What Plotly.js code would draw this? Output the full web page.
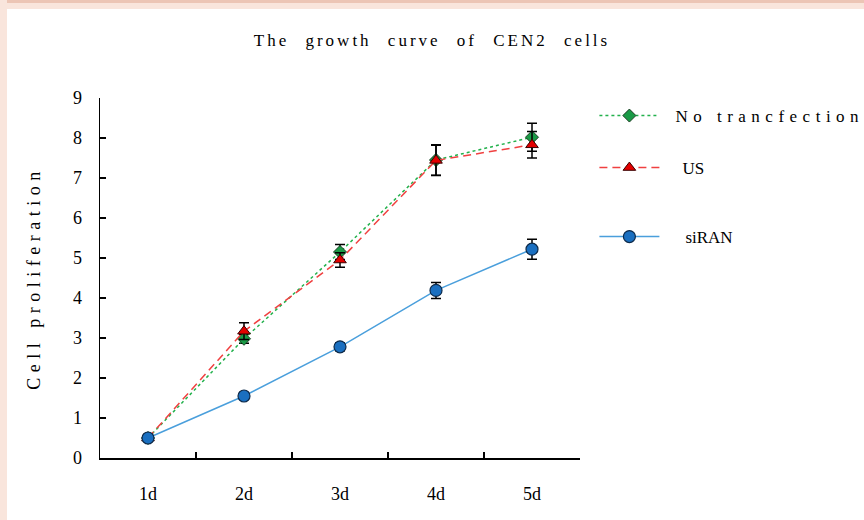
<!DOCTYPE html>
<html>
<head>
<meta charset="utf-8">
<script src="https://cdn.plot.ly/plotly-3.0.1.min.js"></script>
<style>
  html, body { margin: 0; padding: 0; background: #ffffff; }
  #wrap { position: relative; width: 864px; height: 520px; overflow: hidden; }
  #chart { position: absolute; left: 0; top: 0; width: 864px; height: 520px; }
  #bandTop { position: absolute; left: 0; top: 0; width: 864px; height: 9px; background: #f9e5dc; pointer-events: none; }
  #bandTop2 { position: absolute; left: 0; top: 0; width: 864px; height: 3px; background: #ecc5b5; pointer-events: none; }
  #bandLeft { position: absolute; left: 0; top: 0; width: 7px; height: 520px; background: #f9e5dc; pointer-events: none; }
  .gtitle { letter-spacing: 3px; word-spacing: 9px; }
  .ytitle { letter-spacing: 5.5px; }
</style>
</head>
<body>
<div id="wrap">
  <div id="chart"></div>
  <div id="bandTop"></div>
  <div id="bandTop2"></div>
  <div id="bandLeft"></div>
</div>
<script>
const days = ['1d', '2d', '3d', '4d', '5d'];
const yTicks = [0, 1, 2, 3, 4, 5, 6, 7, 8, 9];

const noTransfection = [0.5, 2.98, 5.15, 7.45, 8.02];
const noTransfectionErr = [0.05, 0.11, 0.19, 0.38, 0.35];

const usValues = [0.5, 3.17, 4.95, 7.44, 7.83];
const usErr = [0.05, 0.21, 0.18, 0.38, 0.33];

const siRAN = [0.5, 1.55, 2.78, 4.19, 5.22];
const siRANErr = [0.04, 0.08, 0.1, 0.2, 0.25];

const serifFont = 'Liberation Serif, Times New Roman, serif';

const errStyle = (arr) => ({
  type: 'data', array: arr, visible: true,
  color: '#000000', thickness: 1.5, width: 5
});

const traces = [
  {
    x: days, y: noTransfection, name: 'No trancfection',
    type: 'scatter', mode: 'lines+markers',
    line: { color: '#22b14c', width: 1.5, dash: 'dot' },
    marker: { symbol: 'diamond', size: 10, color: '#1a9a46', line: { color: '#1b3d22', width: 1 } },
    error_y: errStyle(noTransfectionErr),
    legend: 'legend'
  },
  {
    x: days, y: usValues, name: 'US',
    type: 'scatter', mode: 'lines+markers',
    line: { color: '#f04040', width: 1.5, dash: '8px,5px' },
    marker: { symbol: 'triangle-up', size: 11, color: '#e30000', line: { color: '#3a0000', width: 1 } },
    error_y: errStyle(usErr),
    legend: 'legend2'
  },
  {
    x: days, y: siRAN, name: 'siRAN',
    type: 'scatter', mode: 'lines+markers',
    line: { color: '#4a9fdc', width: 1.5 },
    marker: { symbol: 'circle', size: 12, color: '#1a6fc0', line: { color: '#0d2a4a', width: 1.2 } },
    error_y: errStyle(siRANErr),
    legend: 'legend3'
  }
];

const legendBase = {
  bgcolor: 'rgba(0,0,0,0)', borderwidth: 0,
  font: { family: serifFont, size: 17, color: '#000000' },
  xref: 'paper', yref: 'paper', xanchor: 'left', yanchor: 'middle',
  itemwidth: 60
};

const layout = {
  width: 864, height: 520,
  paper_bgcolor: '#ffffff', plot_bgcolor: '#ffffff',
  margin: { l: 100, r: 284, t: 98, b: 62 },
  title: {
    text: 'The growth curve of CEN2 cells',
    font: { family: serifFont, size: 17, color: '#000000' },
    x: 0.5, xref: 'container', xanchor: 'center',
    y: 1 - 40 / 520, yref: 'container', yanchor: 'middle'
  },
  xaxis: {
    type: 'category', categoryorder: 'array', categoryarray: days,
    range: [-0.5, 4.5], tickson: 'boundaries',
    ticks: 'inside', ticklen: 6, tickwidth: 1.2, tickcolor: '#000000',
    showline: true, linecolor: '#000000', linewidth: 1.5,
    showgrid: false, zeroline: false,
    tickfont: { family: serifFont, size: 18, color: '#000000' },
    ticklabelstandoff: 19
  },
  yaxis: {
    range: [0, 9], tickvals: yTicks, ticktext: yTicks.map(String),
    ticks: 'inside', ticklen: 6, tickwidth: 1.2, tickcolor: '#000000',
    showline: true, linecolor: '#000000', linewidth: 1.5,
    showgrid: false, zeroline: false,
    tickfont: { family: serifFont, size: 18, color: '#000000' },
    ticklabelstandoff: 13,
    title: {
      text: 'Cell proliferation',
      font: { family: serifFont, size: 18, color: '#000000' },
      standoff: 27
    }
  },
  showlegend: true,
  legend: Object.assign({}, legendBase, { x: 1.03, y: (458 - 116) / 360 }),
  legend2: Object.assign({}, legendBase, { x: 1.03, y: (458 - 168) / 360 }),
  legend3: Object.assign({}, legendBase, { x: 1.03, y: (458 - 237) / 360 })
};

// horizontal offsets of the legend labels and their letter spacing
const legendTextShift = { 'No trancfection': [11, 5.5], 'US': [18, 0], 'siRAN': [21, 0] };

const gd = document.getElementById('chart');

function fixLegends() {
  gd.querySelectorAll('[clip-path]').forEach(function (el) {
    const g = el.closest('g[class^="legend"]');
    if (g) el.removeAttribute('clip-path');
  });
  gd.querySelectorAll('text').forEach(function (t) {
    const s = legendTextShift[(t.textContent || '').trim()];
    if (s && t.getAttribute('data-shifted') !== '1') {
      const x = parseFloat(t.getAttribute('x') || '0');
      t.setAttribute('x', String(x + s[0]));
      t.style.letterSpacing = s[1] + 'px';
      t.setAttribute('data-shifted', '1');
    }
  });
}

const observer = new MutationObserver(function () {
  observer.disconnect();
  fixLegends();
  observer.observe(gd, { childList: true, subtree: true, attributes: true, attributeFilter: ['x'] });
});
observer.observe(gd, { childList: true, subtree: true, attributes: true, attributeFilter: ['x'] });

Plotly.newPlot(gd, traces, layout, { displayModeBar: false, staticPlot: true }).then(fixLegends);
</script>
</body>
</html>
